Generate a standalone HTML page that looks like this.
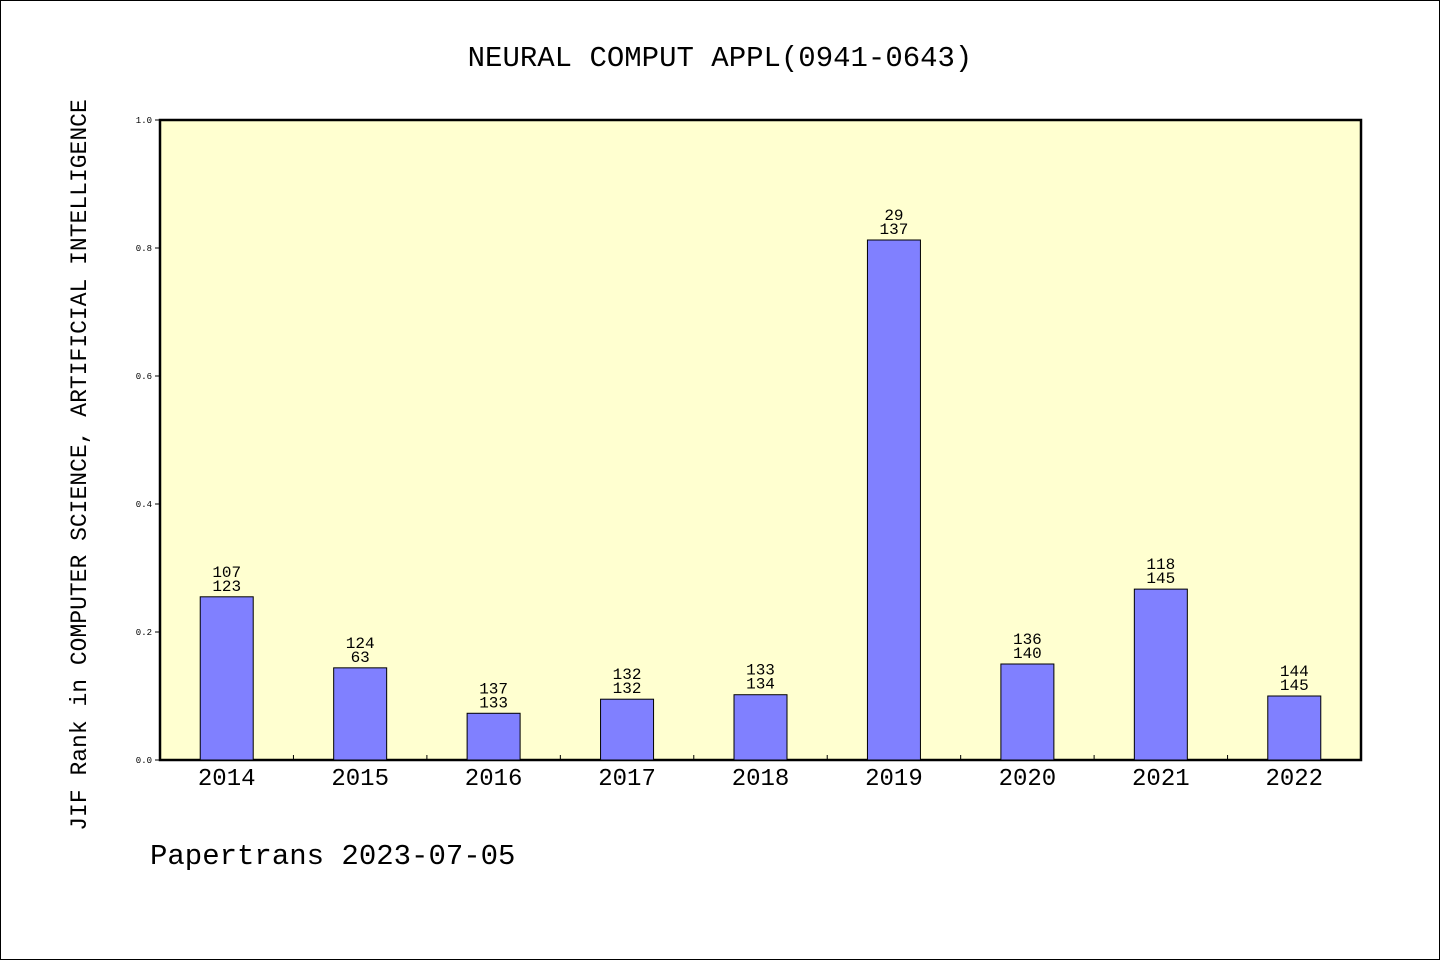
<!DOCTYPE html>
<html><head><meta charset="utf-8"><style>
body{margin:0;background:#fff}
svg{display:block}
text{font-family:"Liberation Mono","WenQuanYi Zen Hei",monospace;fill:#000}
</style></head><body>
<svg id="chart" width="1440" height="960" xmlns="http://www.w3.org/2000/svg">
<rect x="0.5" y="0.5" width="1439" height="959" fill="#fff" stroke="#000"/>
<text x="720" y="66" font-size="29" text-anchor="middle">NEURAL COMPUT APPL(0941-0643)</text>
<rect x="160" y="120" width="1201" height="640" fill="#ffffd0" stroke="#000" stroke-width="2.5"/>
<text transform="translate(86,465) rotate(-90)" font-size="23" text-anchor="middle">JIF Rank in COMPUTER SCIENCE, ARTIFICIAL INTELLIGENCE</text>
<text x="150" y="864" font-size="29">Papertrans 2023-07-05</text>
<g id="yaxis"></g><g id="bars"></g><g id="xaxis"></g>
</svg>
<script>
const years=["2014","2015","2016","2017","2018","2019","2020","2021","2022"];
const values=[0.255,0.144,0.073,0.095,0.102,0.8125,0.15,0.267,0.1];
const labelTop=["107","124","137","132","133","29","136","118","144"];
const labelBottom=["123","63","133","132","134","137","140","145","145"];
const yTicks=[0,0.2,0.4,0.6,0.8,1.0];
const NS="http://www.w3.org/2000/svg";
const X0=160,X1=1361,Y0=760,Y1=120;
const band=(X1-X0)/years.length;
const xc=i=>X0+band*(i+0.5);
const y=v=>Y0-(Y0-Y1)*v;
function mk(t,a,p){const e=document.createElementNS(NS,t);for(const k in a)e.setAttribute(k,a[k]);p.appendChild(e);return e;}
const ya=document.getElementById('yaxis'),ba=document.getElementById('bars'),xa=document.getElementById('xaxis');
yTicks.forEach(v=>{
 const l=mk('line',{x1:X0-5,x2:X0,y1:y(v),y2:y(v),stroke:'#000'},ya);
 
 
 const t=mk('text',{x:X0-8,y:y(v)+3,'font-size':9,'text-anchor':'end'},ya);
 t.textContent=v.toFixed(1);
 
 
});
years.forEach((yr,i)=>{
 const bw=53;
 const r=mk('rect',{x:xc(i)-bw/2,y:y(values[i]),width:bw,height:Y0-y(values[i]),fill:'#8080ff',stroke:'#000'},ba);
 
 
 const t1=mk('text',{x:xc(i),y:y(values[i])-20,'font-size':16,'text-anchor':'middle'},ba);
 t1.textContent=labelTop[i];
 
 
 const t2=mk('text',{x:xc(i),y:y(values[i])-6,'font-size':16,'text-anchor':'middle'},ba);
 t2.textContent=labelBottom[i];
 
 
 const xt=mk('text',{x:xc(i),y:785,'font-size':24,'text-anchor':'middle'},xa);
 xt.textContent=yr;
 
 
 if(i>0){
  const tk=mk('line',{x1:X0+band*i,x2:X0+band*i,y1:Y0,y2:Y0-5,stroke:'#000'},xa);
  
  
 }
});
</script>
</body></html>
